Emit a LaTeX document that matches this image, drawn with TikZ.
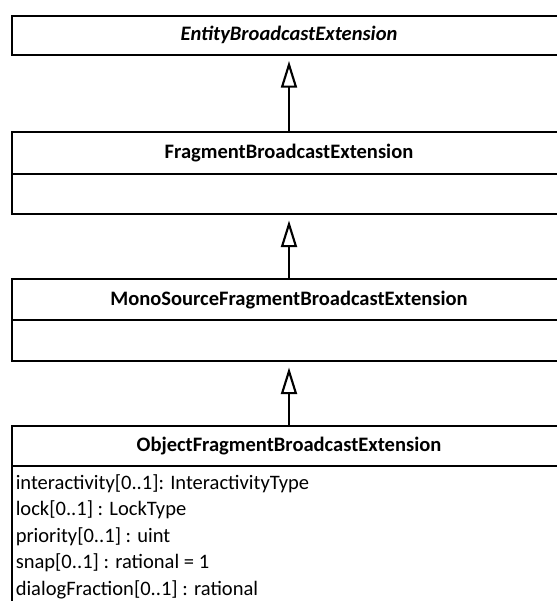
\documentclass[tikz,border=0pt]{standalone}
\usepackage{fontspec}
\setmainfont{Carlito}
\usetikzlibrary{arrows.meta}
\begin{document}
\begin{tikzpicture}[x=0.75pt,y=-0.75pt,
  cls/.style={draw=black, line width=1.6pt, fill=white, minimum width=415.5pt,
    inner sep=0pt, anchor=north, font=\fontsize{15.4}{19}\selectfont\bfseries},
  comp/.style={draw=black, line width=1.6pt, fill=white, minimum width=415.5pt,
    inner sep=0pt, anchor=north},
  attr/.style={anchor=base west, inner sep=0pt, font=\fontsize{15.4}{19}\selectfont},
  gen/.style={draw=black, line width=1.6pt, shorten >=4pt,
    -{Triangle[open, length=20pt, width=12pt, line width=1.6pt, fill=white]}}]
\clip (0,0) rectangle (557,601);
\fill[white] (0,0) rectangle (557,601);
% classes
\node[cls, minimum height=28.9pt] (b1) at (289,15) {\itshape EntityBroadcastExtension};
\node[cls, minimum height=31.5pt] (b2) at (289,131) {FragmentBroadcastExtension};
\node[comp, minimum height=30pt] (b2a) at (289,173) {};
\node[cls, minimum height=30.75pt] (b3) at (289,278) {MonoSourceFragmentBroadcastExtension};
\node[comp, minimum height=30.75pt] (b3a) at (289,319) {};
\node[cls, minimum height=30.4pt] (b4) at (289,424.5) {ObjectFragmentBroadcastExtension};
\node[comp, minimum height=120pt] (b4a) at (289,465) {};
% attributes
\node[attr] (a1) at (15.5,489) {interactivity[0..1]: InteractivityType};
\node[attr] (a2) at (15.5,515.5) {lock[0..1] : LockType};
\node[attr] (a3) at (15.5,542) {priority[0..1] : uint};
\node[attr] (a4) at (15.5,568.5) {snap[0..1] : rational = 1};
\node[attr] (a5) at (15.5,595) {dialogFraction[0..1] : rational};
% generalizations
\draw[gen] (b2.north) -- (b1.south);
\draw[gen] (b3.north) -- (b2a.south);
\draw[gen] (b4.north) -- (b3a.south);
\end{tikzpicture}
\end{document}
